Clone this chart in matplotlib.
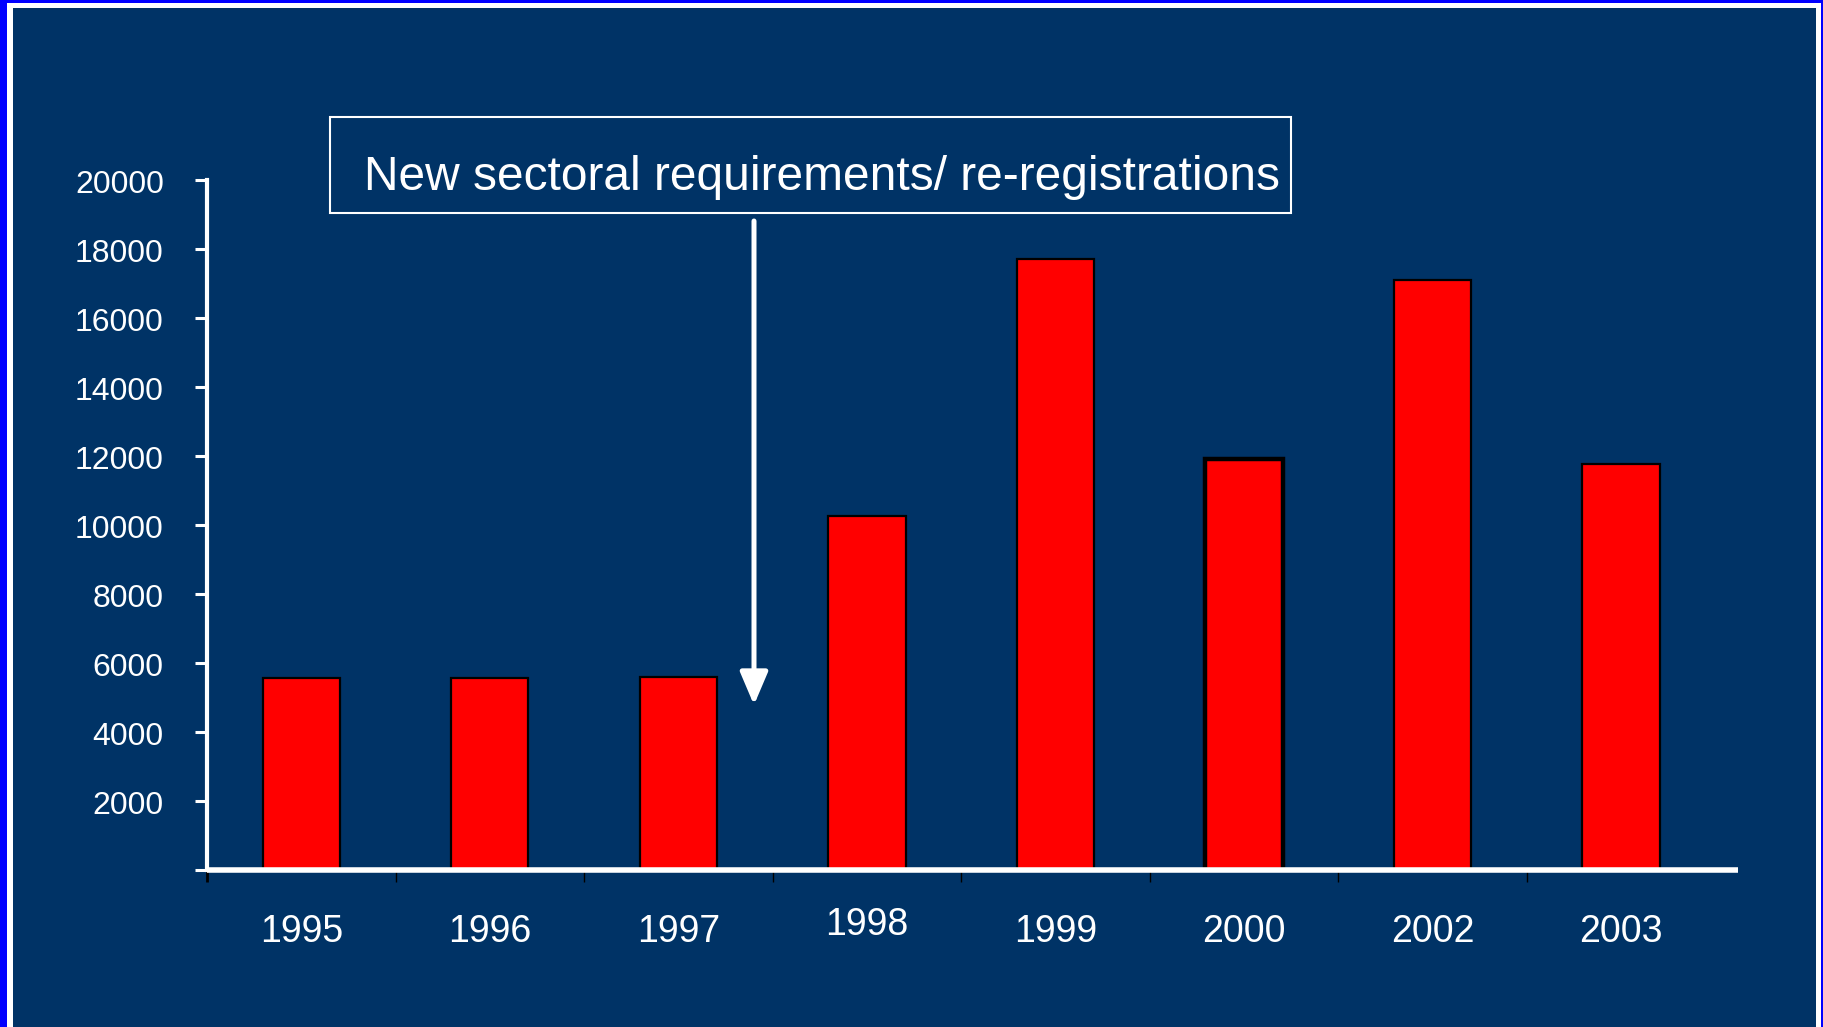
import matplotlib
matplotlib.use("Agg")
import matplotlib.pyplot as plt
import matplotlib.transforms as mtransforms
from matplotlib.patches import Rectangle

plt.rcParams['font.family'] = ['Liberation Sans', 'DejaVu Sans']

years = ['1995', '1996', '1997', '1998', '1999', '2000', '2002', '2003']
counts = [5550, 5550, 5600, 10250, 17700, 11900, 17100, 11750]
yticks = list(range(0, 20001, 2000))
note = 'New sectoral requirements/ re-registrations'

W, H = 1824, 1027
navy = '#003366'

def fx(x):
    return x / W

def fy(y):
    return 1 - y / H

fig = plt.figure(figsize=(W / 100, H / 100), dpi=100)
fig.patch.set_facecolor('#0000ff')
# white frame + navy slide background
fig.add_artist(Rectangle((fx(7), fy(H)), fx(1821) - fx(7), fy(3) - fy(H),
                         transform=fig.transFigure, facecolor='white', edgecolor='none', zorder=0))
fig.add_artist(Rectangle((fx(13), fy(H)), fx(1816) - fx(13), fy(8) - fy(H),
                         transform=fig.transFigure, facecolor=navy, edgecolor='none', zorder=0))

ax = fig.add_axes([fx(207), fy(870), fx(1738) - fx(207), fy(179.5) - fy(870)])
ax.set_facecolor('none')

x = list(range(len(years)))
bars = ax.bar(x, counts, width=0.41, color='#ff0000', edgecolor='black', linewidth=1.6, zorder=1)
bars[5].set_linewidth(3.2)

ax.set_xlim(-0.5, 7.62)
ax.set_ylim(0, 20000)

for s in ['top', 'right']:
    ax.spines[s].set_visible(False)
ax.spines['left'].set_color('white')
ax.spines['left'].set_linewidth(3)
ax.spines['bottom'].set_color('white')
ax.spines['bottom'].set_linewidth(4)
ax.spines['bottom'].set_capstyle('butt')

ax.set_yticks(yticks)
ax.set_yticklabels([''] + [str(v) for v in yticks[1:]])
ax.tick_params(axis='y', colors='white', length=8.6, width=2.2, pad=22.5, labelsize=23)
shift = mtransforms.ScaledTranslation(0, -2 / 100, fig.dpi_scale_trans)
for lab in ax.get_yticklabels():
    lab.set_transform(lab.get_transform() + shift)

# category boundary ticks on the x axis, labels drawn separately
ax.set_xticks([])
ax.set_xticks([i - 0.5 for i in range(len(years))], minor=True)
ax.tick_params(axis='x', which='minor', color='black', length=8.6, width=1)
mt = ax.xaxis.get_minor_ticks()
mt[0].tick1line.set_color('white')
mt[0].tick1line.set_markeredgewidth(2)

trans = mtransforms.blended_transform_factory(ax.transData, ax.transAxes)
for i, lab in enumerate(years):
    yy = -0.094 if lab == '1998' else -0.104
    ax.text(i, yy, lab, transform=trans, ha='center', va='baseline',
            fontsize=27, color='white')

# annotation box and arrow
fig.add_artist(Rectangle((fx(330), fy(213)), fx(1291) - fx(330), fy(117) - fy(213),
                         transform=fig.transFigure, facecolor='none', edgecolor='white', lw=1.5))
fig.text(fx(364), fy(190), note, fontsize=34.5, color='white', ha='left', va='baseline')
ax.annotate('', xy=(fx(754), fy(705)), xycoords='figure fraction',
            xytext=(fx(754), fy(221)), textcoords='figure fraction',
            arrowprops=dict(arrowstyle='-|>,head_length=0.4,head_width=0.17',
                            mutation_scale=50, lw=3.6, color='white',
                            shrinkA=0, shrinkB=0))

fig.savefig('out.png', dpi=100, facecolor=fig.get_facecolor())
